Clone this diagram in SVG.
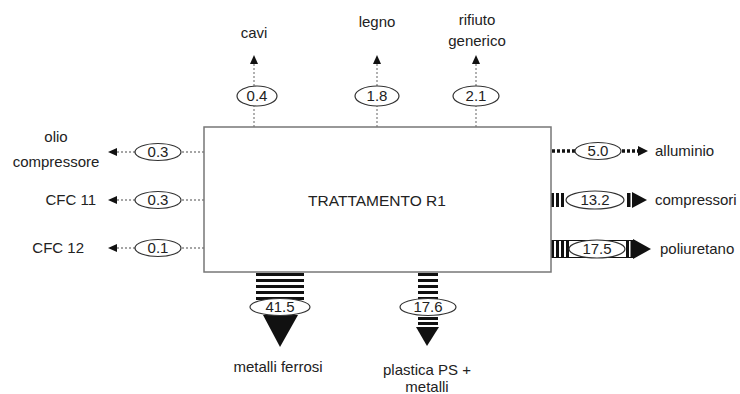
<svg xmlns="http://www.w3.org/2000/svg" width="740" height="394" viewBox="0 0 740 394">
<style>
text{font-family:"Liberation Sans",Arial,sans-serif;font-size:15px;fill:#222;}
.c{text-anchor:middle;}
.s{text-anchor:start;}
.e{text-anchor:end;}
.t{font-size:15.5px;}
.box{fill:#fff;stroke:#777;stroke-width:1.5;}
.ell{fill:#fff;stroke:#333;stroke-width:1.2;}
.dot{stroke:#888;stroke-width:1.3;stroke-dasharray:2 2;fill:none;}
.thick{stroke:#111;stroke-width:3.5;stroke-dasharray:3 2;fill:none;}
.bar{fill:#111;}
.head{fill:#111;}
</style>
<rect width="740" height="394" fill="#fff"/>
<g id="connectors">
  <line class="dot" x1="254" y1="127" x2="254" y2="106"/>
  <line class="dot" x1="254" y1="86" x2="254" y2="63"/>
  <polygon class="head" points="254,55 250,64 258,64"/>
  <line class="dot" x1="377" y1="127" x2="377" y2="106"/>
  <line class="dot" x1="377" y1="86" x2="377" y2="63"/>
  <polygon class="head" points="377,55 373,64 381,64"/>
  <line class="dot" x1="476" y1="127" x2="476" y2="106"/>
  <line class="dot" x1="476" y1="86" x2="476" y2="63"/>
  <polygon class="head" points="476,55 472,64 480,64"/>
  <line class="dot" x1="204" y1="152" x2="181" y2="152"/>
  <line class="dot" x1="135" y1="152" x2="116" y2="152"/>
  <polygon class="head" points="108,152 117,148 117,156"/>
  <line class="dot" x1="204" y1="200" x2="181" y2="200"/>
  <line class="dot" x1="135" y1="200" x2="116" y2="200"/>
  <polygon class="head" points="108,200 117,196 117,204"/>
  <line class="dot" x1="204" y1="248" x2="181" y2="248"/>
  <line class="dot" x1="135" y1="248" x2="116" y2="248"/>
  <polygon class="head" points="108,248 117,244 117,252"/>
  <line class="thick" x1="552" y1="151" x2="575" y2="151"/>
  <line class="thick" x1="622" y1="151" x2="638" y2="151"/>
  <polygon class="head" points="648,151 638,146 638,156"/>
  <rect class="bar" x="551" y="193" width="3" height="14"/>
  <rect class="bar" x="556" y="193" width="3" height="14"/>
  <rect class="bar" x="561" y="193" width="3" height="14"/>
  <rect class="bar" x="627" y="193" width="3.5" height="14"/>
  <polygon class="head" points="647,200 632,192 632,208"/>
  <line x1="551" y1="240.5" x2="632" y2="240.5" stroke="#111" stroke-width="1"/>
  <line x1="551" y1="257.5" x2="632" y2="257.5" stroke="#111" stroke-width="1"/>
  <rect class="bar" x="551" y="240" width="3" height="18"/>
  <rect class="bar" x="556" y="240" width="3" height="18"/>
  <rect class="bar" x="561" y="240" width="3" height="18"/>
  <rect class="bar" x="566" y="240" width="3" height="18"/>
  <rect class="bar" x="626" y="240" width="3" height="18"/>
  <rect class="bar" x="630.5" y="240" width="3" height="18"/>
  <polygon class="head" points="651,249 633,239 633,259"/>
  <rect class="bar" x="256" y="273" width="48" height="3"/>
  <rect class="bar" x="256" y="279" width="48" height="3"/>
  <rect class="bar" x="256" y="285" width="48" height="3"/>
  <rect class="bar" x="256" y="291" width="48" height="3"/>
  <rect class="bar" x="256" y="297" width="48" height="3"/>
  <polygon class="head" points="263,315 298,315 280,347"/>
  <rect class="bar" x="418" y="273" width="20" height="3"/>
  <rect class="bar" x="418" y="279" width="20" height="3"/>
  <rect class="bar" x="418" y="285" width="20" height="3"/>
  <rect class="bar" x="418" y="291" width="20" height="3"/>
  <rect class="bar" x="418" y="297" width="20" height="3"/>
  <rect class="bar" x="418" y="317" width="20" height="3"/>
  <rect class="bar" x="418" y="322" width="20" height="3"/>
  <polygon class="head" points="416,327 439,327 427,346"/>
</g>
<g id="process">
  <rect class="box" x="204" y="127" width="347" height="145"/>
  <text class="c t" x="377" y="206">TRATTAMENTO R1</text>
</g>
<g id="cavi">
  <ellipse class="ell" cx="257" cy="96" rx="20" ry="10"/>
  <text class="c" x="257" y="101">0.4</text>
  <text class="c" x="254" y="38">cavi</text>
</g>
<g id="legno">
  <ellipse class="ell" cx="377" cy="96" rx="22" ry="10"/>
  <text class="c" x="377" y="101">1.8</text>
  <text class="c" x="377" y="27">legno</text>
</g>
<g id="rifiuto">
  <ellipse class="ell" cx="476" cy="96" rx="23" ry="10"/>
  <text class="c" x="476" y="101">2.1</text>
  <text class="c" x="477" y="25">rifiuto</text>
  <text class="c" x="477" y="46">generico</text>
</g>
<g id="olio">
  <ellipse class="ell" cx="158" cy="152" rx="23" ry="8.5"/>
  <text class="c" x="158" y="157">0.3</text>
  <text class="c" x="56" y="142">olio</text>
  <text class="c" x="56" y="167">compressore</text>
</g>
<g id="cfc11">
  <ellipse class="ell" cx="158" cy="200" rx="23" ry="8.5"/>
  <text class="c" x="158" y="205">0.3</text>
  <text class="e" x="96" y="205">CFC 11</text>
</g>
<g id="cfc12">
  <ellipse class="ell" cx="158" cy="248" rx="23" ry="8.5"/>
  <text class="c" x="158" y="253">0.1</text>
  <text class="e" x="84" y="253">CFC 12</text>
</g>
<g id="alluminio">
  <ellipse class="ell" cx="598" cy="151" rx="23" ry="8.5"/>
  <text class="c" x="598" y="156">5.0</text>
  <text class="s" x="655" y="156">alluminio</text>
</g>
<g id="compressori">
  <ellipse class="ell" cx="595" cy="200" rx="29" ry="9"/>
  <text class="c" x="595" y="205">13.2</text>
  <text class="s" x="655" y="205">compressori</text>
</g>
<g id="poliuretano">
  <ellipse class="ell" cx="597" cy="249" rx="28" ry="9"/>
  <text class="c" x="597" y="254">17.5</text>
  <text class="s" x="660" y="254">poliuretano</text>
</g>
<g id="metalli-ferrosi">
  <ellipse class="ell" cx="280" cy="307" rx="30" ry="8.5"/>
  <text class="c" x="280" y="312">41.5</text>
  <text class="c" x="278" y="372">metalli ferrosi</text>
</g>
<g id="plastica">
  <ellipse class="ell" cx="428" cy="307" rx="28" ry="8.5"/>
  <text class="c" x="428" y="312">17.6</text>
  <text class="c" x="427" y="375">plastica PS +</text>
  <text class="c" x="427" y="392">metalli</text>
</g>
</svg>
